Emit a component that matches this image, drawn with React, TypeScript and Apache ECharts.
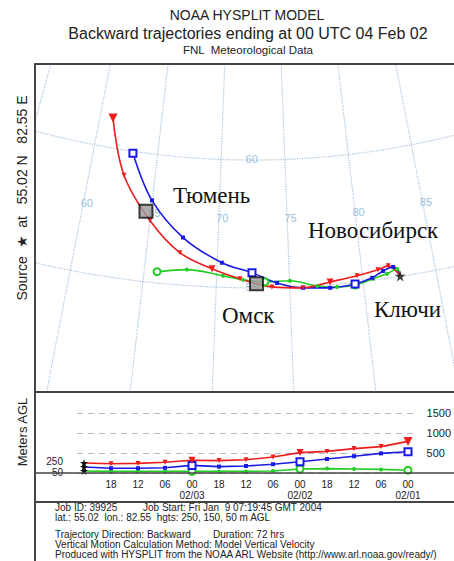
import React, { useEffect, useRef } from 'react';
import * as echarts from 'echarts';

// ---- data ----
const hoursBack = [0, 6, 12, 18, 24, 30, 36, 42, 48, 54, 60, 66, 72];
const hourLabels = ['', '18', '12', '06', '00', '18', '12', '06', '00', '18', '12', '06', '00'];
const dateLabels = ['02/03', '02/02', '02/01'];

const redLon = [82.55, 81.84, 81.11, 79.64, 77.76, 75.9, 73.79, 71.61, 69.66, 67.35, 65.0, 62.64, 61.05];
const redLat = [55.02, 55.48, 55.38, 55.25, 55.11, 54.95, 55.03, 55.35, 55.71, 56.26, 57.4, 59.02, 61.17];
const blueLon = [82.55, 82.17, 81.45, 80.64, 79.44, 77.73, 75.9, 74.14, 72.43, 70.33, 67.49, 64.98, 63.07];
const blueLat = [55.02, 55.41, 55.31, 55.1, 54.94, 54.88, 54.95, 55.18, 55.59, 55.96, 56.86, 58.19, 59.93];
const greenLon = [82.55, 82.42, 81.69, 80.7, 79.43, 78.21, 76.86, 75.03, 73.32, 71.82, 70.43, 67.92, 65.89];
const greenLat = [55.02, 55.31, 55.18, 55.06, 54.9, 54.89, 54.99, 55.25, 55.23, 55.31, 55.45, 55.62, 55.44];

const redHgt = [250, 230, 240, 270, 320, 310, 330, 400, 510, 540, 610, 660, 790];
const blueHgt = [150, 120, 120, 130, 190, 160, 175, 220, 280, 350, 420, 490, 530];
const greenHgt = [50, 40, 40, 40, 40, 40, 40, 50, 100, 110, 100, 90, 70];

const sourceLon = 82.55;
const sourceLat = 55.02;
const cityNames = ['Тюмень', 'Омск'];
const cityLon = [64.63, 72.74];
const cityLat = [57.74, 55.16];

const meridians = [50, 55, 60, 65, 70, 75, 80, 85, 90];
const parallels = [55, 60];
const meridianLabelLons = [60, 65, 70, 75, 80, 85];
const parallelLabelLats = [55, 60];
const heightTicks = [500, 1000, 1500];
const sourceHeightLabels = [250, 50];

// ---- projection (Lambert conformal) ----
const CONE = 0.88;
const LON0 = 72.5;
const RSCALE = 2645;
const proj = (lon: number, lat: number): number[] => {
  const th = (CONE * (lon - LON0) * Math.PI) / 180;
  const r = RSCALE * Math.pow(Math.tan(Math.PI / 4 - (lat * Math.PI) / 360), CONE);
  return [r * Math.sin(th), r * Math.cos(th)];
};

const RED = '#ee1c1c';
const BLUE = '#1a1ae6';
const GREEN = '#22cc22';
const STAR = 'path://M50,0 L61,35 L98,35 L68,57 L79,91 L50,70 L21,91 L32,57 L2,35 L39,35 Z';
const GRAT = '#a9c3dc';
const GRAT_LABEL = '#7eaed8';

type Kind = 'red' | 'blue' | 'green';
const markerFor = (kind: Kind, i: number) => {
  const big = i > 0 && i % 4 === 0;
  if (kind === 'red') {
    return { symbol: 'triangle', symbolRotate: 180, symbolSize: i === 12 ? 9 : big ? 7 : 5 };
  }
  if (kind === 'blue') {
    return big
      ? { symbol: 'emptyRect', symbolSize: 7, itemStyle: { borderWidth: 1.3 } }
      : { symbol: 'rect', symbolSize: 4 };
  }
  return big
    ? { symbol: 'emptyCircle', symbolSize: 7, itemStyle: { borderWidth: 1.3 } }
    : { symbol: 'circle', symbolSize: 4 };
};

const mapTraj = (kind: Kind, lons: number[], lats: number[], color: string) => ({
  type: 'line',
  xAxisIndex: 0,
  yAxisIndex: 0,
  smooth: 0.35,
  z: 5,
  lineStyle: { color, width: 1.6 },
  itemStyle: { color },
  data: lons.map((lon, i) =>
    i === 0
      ? { value: proj(lon, lats[i]), symbol: 'none' }
      : { value: proj(lon, lats[i]), ...markerFor(kind, i) }
  ),
});

const hgtTraj = (kind: Kind, hgts: number[], color: string) => ({
  type: 'line',
  xAxisIndex: 2,
  yAxisIndex: 2,
  z: 5,
  lineStyle: { color, width: 1.6 },
  itemStyle: { color },
  data: hgts.map((h, i) =>
    i === 0
      ? { value: [hoursBack[i], h], symbol: STAR, symbolSize: 8, itemStyle: { color: '#111' } }
      : { value: [hoursBack[i], h], ...markerFor(kind, i) }
  ),
});

const range = (a: number, b: number, s: number) => {
  const out: number[] = [];
  for (let v = a; v <= b + 1e-9; v += s) out.push(v);
  return out;
};

const sans = '"Liberation Sans", Arial, sans-serif';
const serif = '"Liberation Serif", "Times New Roman", serif';

const txt = (text: string, x: number, y: number, size: number, opts: any = {}) => ({
  type: 'text',
  x,
  y,
  rotation: opts.rotation || 0,
  z: 20,
  style: {
    text,
    fontSize: size,
    fontFamily: opts.family || sans,
    fill: opts.fill || '#222',
    align: opts.align || 'left',
    verticalAlign: 'middle',
    textAlign: opts.align || 'left',
    textVerticalAlign: 'middle',
  },
});

const foot = (text: string, x: number, y: number) => txt(text, x, y, 10);

const hline = (y: number, x1: number, x2: number, w = 2) => ({
  type: 'line',
  z: 15,
  shape: { x1, y1: y, x2, y2: y },
  style: { stroke: '#444', lineWidth: w },
});

const buildOption = () => {
  const gratSeries: any[] = [];
  meridians.forEach((lon) => {
    gratSeries.push({
      type: 'line',
      xAxisIndex: 0,
      yAxisIndex: 0,
      symbol: 'none',
      silent: true,
      z: 1,
      lineStyle: { color: GRAT, width: 1.2, type: 'dotted' },
      data: range(48, 66, 0.5).map((lat) => proj(lon, lat)),
    });
  });
  parallels.forEach((lat) => {
    gratSeries.push({
      type: 'line',
      xAxisIndex: 0,
      yAxisIndex: 0,
      symbol: 'none',
      silent: true,
      z: 1,
      lineStyle: { color: GRAT, width: 1.2, type: 'dotted' },
      data: range(40, 105, 1).map((lon) => proj(lon, lat)),
    });
  });

  const gratLabels = {
    type: 'scatter',
    xAxisIndex: 0,
    yAxisIndex: 0,
    symbolSize: 0,
    silent: true,
    z: 2,
    label: {
      show: true,
      position: 'inside',
      formatter: (p: any) => p.name,
      color: GRAT_LABEL,
      fontSize: 11,
      fontFamily: sans,
    },
    data: [
      ...meridianLabelLons.map((lon) => ({ name: String(lon), value: proj(lon + 0.25, 57.7) })),
      ...parallelLabelLats.map((lat) => ({ name: String(lat), value: proj(72.4, lat + 0.05) })),
    ],
  };

  const cities = {
    type: 'scatter',
    xAxisIndex: 0,
    yAxisIndex: 0,
    symbol: 'rect',
    symbolSize: 13,
    z: 8,
    itemStyle: { color: '#9a9a9a', borderColor: '#111', borderWidth: 2 },
    data: cityNames.map((n, i) => ({ name: n, value: proj(cityLon[i], cityLat[i]) })),
  };

  const source = {
    type: 'scatter',
    xAxisIndex: 0,
    yAxisIndex: 0,
    symbol: STAR,
    symbolSize: 11,
    z: 9,
    itemStyle: { color: '#111' },
    data: [proj(sourceLon, sourceLat)],
  };

  return {
    animation: false,
    backgroundColor: '#fff',
    grid: [
      { left: 35, top: 64, width: 419, height: 328 },
      { left: 77, top: 413, width: 340, height: 60 },
      { left: 84, top: 413, width: 324, height: 60 },
    ],
    xAxis: [
      { gridIndex: 0, type: 'value', min: -218, max: 201, show: false },
      { gridIndex: 1, type: 'value', min: 0, max: 1, show: false },
      {
        gridIndex: 2,
        type: 'value',
        min: 0,
        max: 72,
        interval: 6,
        axisLine: { show: false },
        axisTick: { show: false },
        splitLine: { show: false },
        axisLabel: {
          margin: 6,
          fontSize: 10,
          lineHeight: 11,
          color: '#222',
          fontFamily: sans,
          formatter: (v: number) => {
            const i = Math.round(v / 6);
            let s = hourLabels[i] || '';
            if (v > 0 && v % 24 === 0) s += '\n' + dateLabels[v / 24 - 1];
            return s;
          },
        },
      },
    ],
    yAxis: [
      { gridIndex: 0, type: 'value', min: 734, max: 1062, inverse: true, show: false },
      {
        gridIndex: 1,
        type: 'value',
        min: 0,
        max: 1500,
        interval: 500,
        position: 'right',
        axisLine: { show: false },
        axisTick: { show: false },
        splitLine: { show: true, lineStyle: { color: '#bbbbbb', type: [6, 5], width: 1 } },
        axisLabel: {
          margin: 10,
          fontSize: 11,
          color: '#222',
          fontFamily: sans,
          formatter: (v: number) => (heightTicks.indexOf(v) >= 0 ? String(v) : ''),
        },
      },
      {
        gridIndex: 2,
        type: 'value',
        min: 0,
        max: 1500,
        interval: 50,
        position: 'left',
        axisLine: { show: false },
        axisTick: { show: false },
        splitLine: { show: false },
        axisLabel: {
          margin: 21,
          color: '#222',
          fontFamily: sans,
          formatter: (v: number) => {
            if (v === sourceHeightLabels[0]) return '{hi|' + v + '}';
            if (v === sourceHeightLabels[1]) return '{lo|' + v + '}';
            return '';
          },
          rich: {
            hi: { fontSize: 10, lineHeight: 9, padding: [0, 0, 3, 0], fontFamily: sans, color: '#222' },
            lo: { fontSize: 10, lineHeight: 9, padding: [3, 0, 0, 0], fontFamily: sans, color: '#222' },
          },
        },
      },
    ],
    series: [
      ...gratSeries,
      gratLabels,
      mapTraj('green', greenLon, greenLat, GREEN),
      mapTraj('blue', blueLon, blueLat, BLUE),
      mapTraj('red', redLon, redLat, RED),
      cities,
      source,
      hgtTraj('green', greenHgt, GREEN),
      hgtTraj('blue', blueHgt, BLUE),
      hgtTraj('red', redHgt, RED),
    ],
    graphic: [
      hline(64, 34, 460),
      { type: 'line', z: 15, shape: { x1: 35, y1: 63, x2: 35, y2: 561 }, style: { stroke: '#444', lineWidth: 2 } },
      hline(392, 34, 460),
      hline(502, 34, 460),
      hline(473, 34, 460, 1.5),
      txt('NOAA HYSPLIT MODEL', 247, 15, 14, { align: 'center' }),
      txt('Backward trajectories ending at 00 UTC 04 Feb 02', 248, 33, 16, { align: 'center' }),
      txt('FNL  Meteorological Data', 248, 50, 11.5, { align: 'center' }),
      txt('Source  ★  at   55.02 N   82.55 E', 22, 198, 14, { align: 'center', rotation: Math.PI / 2 }),
      txt('Meters AGL', 22, 432, 13, { align: 'center', rotation: Math.PI / 2 }),
      txt('Тюмень', 173, 195, 23, { family: serif, fill: '#111' }),
      txt('Новосибирск', 308, 230, 23, { family: serif, fill: '#111' }),
      txt('Омск', 222, 315, 23, { family: serif, fill: '#111' }),
      txt('Ключи', 374, 309, 23, { family: serif, fill: '#111' }),
      foot('Job ID: 39925', 55, 507),
      foot('Job Start: Fri Jan  9 07:19:45 GMT 2004', 143, 507),
      foot('lat.: 55.02  lon.: 82.55  hgts: 250, 150, 50 m AGL', 55, 517),
      foot('Trajectory Direction: Backward', 55, 534),
      foot('Duration: 72 hrs', 213, 534),
      foot('Vertical Motion Calculation Method: Model Vertical Velocity', 55, 544),
      foot('Produced with HYSPLIT from the NOAA ARL Website (http://www.arl.noaa.gov/ready/)', 55, 554),
    ],
  };
};

export default function App() {
  const ref = useRef<HTMLDivElement>(null);
  useEffect(() => {
    if (!ref.current) return;
    const chart = echarts.init(ref.current, null, { renderer: 'svg' });
    chart.setOption(buildOption() as any);
    return () => chart.dispose();
  }, []);
  return (
    <div
      ref={ref}
      style={{ position: 'fixed', left: 0, top: 0, width: 454, height: 561, background: '#fff' }}
    />
  );
}
